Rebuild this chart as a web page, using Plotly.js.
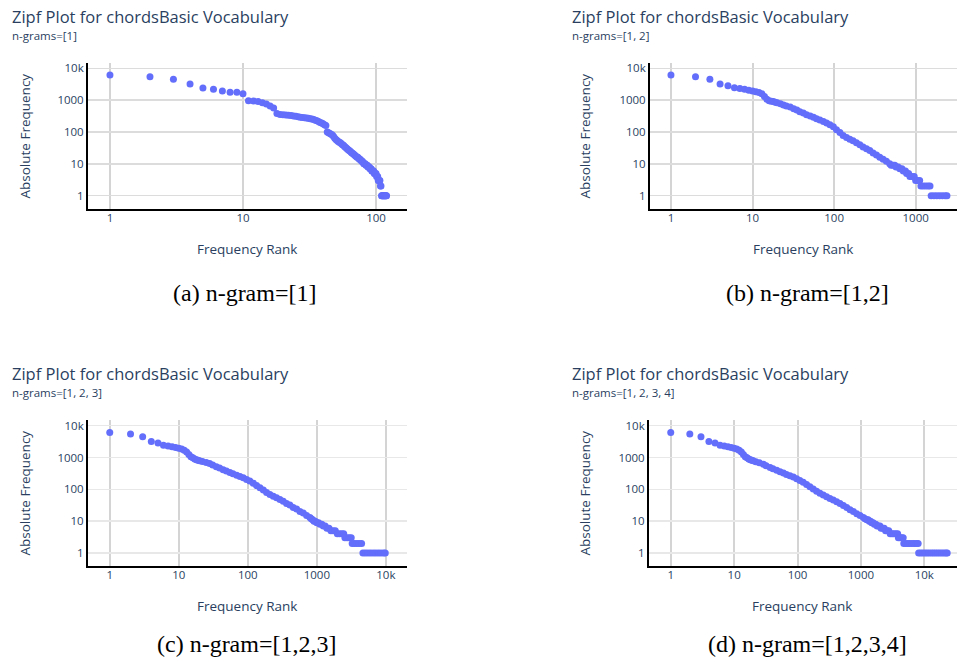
<!DOCTYPE html>
<html>
<head>
<meta charset="utf-8">
<script src="https://cdn.plot.ly/plotly-3.0.1.min.js"></script>
<style>
  html, body { margin: 0; padding: 0; background: #fff; }
  #chart { width: 957px; height: 662px; }
</style>
</head>
<body>
<div id="chart"></div>
<script>
// ---- Rank / frequency data for the chordsBasic vocabulary ----

// n-grams=[1]: absolute frequency of every vocabulary entry, in rank order (rank = position + 1)
const freqUnigram = [
  6150, 5450, 4500, 3200, 2400, 2200, 1950, 1780, 1760, 1580,
  950, 940, 910, 830, 760, 660, 570, 380, 355, 345,
  340, 335, 330, 320, 310, 300, 290, 285, 280, 275,
  270, 262, 255, 245, 235, 225, 212, 200, 190, 180,
  170, 160, 100, 95, 90, 85, 80, 72, 64, 58,
  54, 50, 48, 46, 43, 40, 38, 35, 33, 31,
  29, 27, 26, 25, 23, 22, 21, 20, 19, 18,
  17, 16, 16, 15, 14, 14, 13, 12, 12, 11,
  10, 10, 10, 9, 9, 9, 8, 8, 8, 7,
  7, 7, 6, 6, 6, 6, 5, 5, 5, 5,
  4, 4, 4, 3, 3, 3, 3, 2, 2, 1,
  1, 1, 1, 1, 1, 1, 1, 1, 1, 1
];

// n-grams=[1, 2]
const rankBigram = [
  1, 2, 3, 4, 5, 6, 7, 8, 9, 10, 11, 12, 13, 14, 15, 16, 17, 18, 19, 20,
  22, 24, 26, 29, 32, 35, 38, 42, 46, 51, 56, 61, 67, 74, 81, 89, 98, 107,
  118, 129, 142, 156, 171, 188, 207, 227, 250, 274, 301, 331, 363, 399, 438, 481,
  500, 530, 555, 575, 610, 640, 680, 705, 750, 775, 820, 850, 900, 960,
  1000, 1060, 1120, 1160, 1240, 1330, 1420, 1500,
  1550, 1680, 1820, 1970, 2130, 2300, 2420
];
const freqBigram = [
  6150, 5450, 4500, 3200, 2850, 2450, 2300, 2180, 2050, 1950, 1850, 1750, 1600, 1300, 1060, 960, 920, 900, 860, 830,
  775, 705, 655, 610, 540, 490, 435, 395, 350, 315, 290, 260, 240, 215, 192, 170, 145, 117,
  96, 77, 67, 59, 53, 46, 40, 34, 30, 26, 22, 19, 16, 14, 12, 10,
  9, 9, 9, 8, 8, 7, 7, 6, 6, 5, 5, 4, 4, 4,
  3, 3, 3, 2, 2, 2, 2, 2,
  1, 1, 1, 1, 1, 1, 1
];

// n-grams=[1, 2, 3]
const rankTrigram = [
  1, 2, 3, 4, 5, 6, 7, 8, 9, 10, 11, 12, 13, 14, 15, 16, 17, 18, 19, 20,
  22, 25, 28, 31, 35, 39, 44, 49, 55, 61, 69, 77, 86, 96, 107, 120, 134, 150,
  168, 187, 209, 234, 261, 292, 326, 364, 407, 455, 509, 569, 636, 711, 794,
  830, 870, 910, 950, 1000, 1060, 1110, 1180, 1240, 1320, 1400, 1500, 1600, 1720, 1850,
  1980, 2130, 2300, 2450, 2550, 2750, 2950, 3150, 3250, 3500, 3800, 4100, 4450,
  4650, 5050, 5500, 6000, 6550, 7150, 7800, 8500, 9300, 9800
];
const freqTrigram = [
  6150, 5450, 4500, 3200, 2850, 2450, 2300, 2180, 2050, 1950, 1850, 1700, 1500, 1250, 1050, 980, 900, 850, 820, 800,
  750, 700, 650, 580, 515, 465, 415, 375, 340, 310, 280, 255, 232, 205, 183, 155, 132, 112,
  95, 80, 69, 61, 54, 48, 42, 36, 32, 27, 24, 20, 18, 15, 13,
  12, 11, 10, 10, 9, 9, 8, 8, 7, 7, 6, 6, 5, 5, 5,
  4, 4, 4, 4, 3, 3, 3, 3, 2, 2, 2, 2, 2,
  1, 1, 1, 1, 1, 1, 1, 1, 1, 1
];

// n-grams=[1, 2, 3, 4]
const rankTetragram = [
  1, 2, 3, 4, 5, 6, 7, 8, 9, 10, 11, 12, 13, 14, 15, 16, 17, 18, 19, 20,
  22, 25, 29, 32, 37, 41, 47, 53, 60, 67, 76, 86, 97, 109, 123, 139, 157, 177,
  200, 226, 255, 288, 325, 367, 415, 468, 529, 597, 674, 761, 860, 971, 1096,
  1160, 1240, 1300, 1360, 1420, 1480, 1560, 1630, 1720, 1800, 1900, 2000, 2080, 2200, 2330,
  2450, 2600, 2750, 2900, 3100, 3300, 3550, 3800, 3900, 4150, 4400, 4650,
  4750, 5100, 5500, 5900, 6400, 6900, 7450, 8000,
  8150, 8800, 9500, 10300, 11100, 12000, 13000, 14000, 15100, 16300, 17600, 19000, 20500, 22000, 23000
];
const freqTetragram = [
  6150, 5450, 4500, 3200, 2850, 2450, 2300, 2180, 2050, 1950, 1850, 1700, 1500, 1250, 1050, 980, 900, 850, 820, 790,
  732, 681, 619, 549, 487, 442, 402, 356, 324, 295, 268, 243, 216, 191, 166, 143, 121, 103,
  87, 75, 66, 59, 52, 46, 41, 36, 31, 27, 23, 20, 17, 15, 13,
  12, 11, 11, 10, 10, 9, 9, 8, 8, 7, 7, 7, 6, 6, 6,
  5, 5, 5, 4, 4, 4, 4, 4, 3, 3, 3, 3,
  2, 2, 2, 2, 2, 2, 2, 2,
  1, 1, 1, 1, 1, 1, 1, 1, 1, 1, 1, 1, 1, 1, 1
];

// Panel texts
const chartTitle = 'Zipf Plot for chordsBasic Vocabulary';
const subtitles = ['n-grams=[1]', 'n-grams=[1, 2]', 'n-grams=[1, 2, 3]', 'n-grams=[1, 2, 3, 4]'];
const captions = ['(a) n-gram=[1]', '(b) n-gram=[1,2]', '(c) n-gram=[1,2,3]', '(d) n-gram=[1,2,3,4]'];
const xTitle = 'Frequency Rank';
const yTitle = 'Absolute Frequency';
const decadeTicks = [1, 10, 100, 1000, 10000];
const decadeLabels = ['1', '10', '100', '1000', '10k'];

// ---- Layout helpers (pixel positions on a 957 x 662 page) ----
const W = 957, H = 662;
const px = x => x / W;
const py = y => 1 - y / H;

const series = [
  { x: freqUnigram.map((_, i) => i + 1), y: freqUnigram },
  { x: rankBigram, y: freqBigram },
  { x: rankTrigram, y: freqTrigram },
  { x: rankTetragram, y: freqTetragram }
];

// Plot-area boxes and log ranges for each panel
const boxes = [
  { l: 88,  r: 407, t: 63,  b: 209, xr: [-0.165, 2.233], yr: [-0.418, 4.166], ygrid: '#dcdcdc' },
  { l: 650, r: 957, t: 63,  b: 209, xr: [-0.257, 3.507], yr: [-0.418, 4.166], ygrid: '#dcdcdc' },
  { l: 88,  r: 407, t: 420, b: 566, xr: [-0.315, 4.306], yr: [-0.409, 4.180], ygrid: '#e8e8e8' },
  { l: 649, r: 957, t: 420, b: 566, xr: [-0.343, 4.516], yr: [-0.409, 4.180], ygrid: '#e8e8e8' }
];
const originX = [0, 560, 0, 560];
const originY = [0, 0, 357, 357];
const captionX = [244, 807, 246, 807];
const captionY = [292.5, 292.5, 643.5, 643.5];

const fontSans = 'Open Sans, verdana, arial, sans-serif';
const textColor = '#2a3f5f';

const data = [];
const layout = {
  width: W, height: H, autosize: false,
  margin: { l: 0, r: 0, t: 0, b: 0, pad: 0 },
  paper_bgcolor: '#ffffff', plot_bgcolor: '#ffffff',
  showlegend: false,
  font: { family: fontSans, color: textColor },
  annotations: []
};

boxes.forEach((bx, i) => {
  const n = i === 0 ? '' : String(i + 1);
  data.push({
    type: 'scatter', mode: 'markers',
    x: series[i].x, y: series[i].y,
    xaxis: 'x' + n, yaxis: 'y' + n,
    marker: { color: '#636efa', size: 7 },
    hoverinfo: 'x+y'
  });
  const common = {
    type: 'log', tickvals: decadeTicks, ticktext: decadeLabels,
    showline: true, linecolor: '#000000', linewidth: 2,
    zeroline: false, ticks: '', showgrid: true,
    tickfont: { family: fontSans, size: 11.5, color: textColor }
  };
  layout['xaxis' + n] = Object.assign({}, common, {
    domain: [px(bx.l), px(bx.r)], range: bx.xr, anchor: 'y' + n,
    gridcolor: '#d4d4d4', gridwidth: 2, ticklabelstandoff: -3
  });
  layout['yaxis' + n] = Object.assign({}, common, {
    domain: [py(bx.b), py(bx.t)], range: bx.yr, anchor: 'x' + n,
    gridcolor: bx.ygrid, gridwidth: 1.5
  });

  const ox = originX[i], oy = originY[i];
  const cx = (bx.l + bx.r) / 2, cy = (bx.t + bx.b) / 2;
  const ann = (x, y, text, size, extra) => Object.assign({
    xref: 'paper', yref: 'paper', x: px(x), y: py(y), text: text,
    showarrow: false, xanchor: 'left', yanchor: 'middle',
    font: { family: fontSans, size: size, color: textColor }
  }, extra || {});

  layout.annotations.push(ann(ox + 10, oy + 16.4, chartTitle, 16.5));
  layout.annotations.push(ann(ox + 10, oy + 35.6, subtitles[i], 11.5));
  layout.annotations.push(ann(cx - 1, bx.b + 39.5, xTitle, 13.5, { xanchor: 'center' }));
  layout.annotations.push(ann(ox + 24.5, cy, yTitle, 13.5, { xanchor: 'center', textangle: -90 }));
  layout.annotations.push({
    xref: 'paper', yref: 'paper', x: px(captionX[i]), y: py(captionY[i]),
    text: captions[i], showarrow: false, xanchor: 'center', yanchor: 'middle',
    font: { family: 'Liberation Serif, DejaVu Serif, serif', size: 24, color: '#000000' }
  });
});

Plotly.newPlot('chart', data, layout, { staticPlot: true, displayModeBar: false });
</script>
</body>
</html>
